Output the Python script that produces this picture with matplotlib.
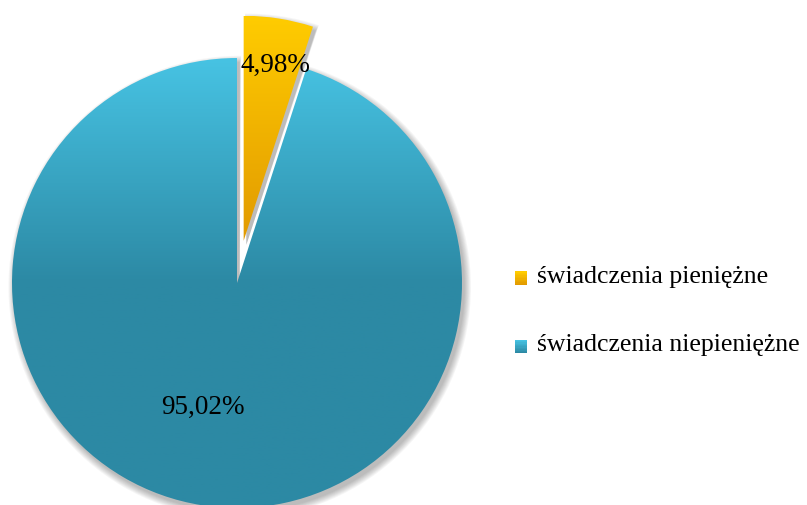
import numpy as np
import matplotlib
matplotlib.use("Agg")
import matplotlib.pyplot as plt
from matplotlib.patches import Wedge, Rectangle
from matplotlib.colors import to_rgb
from matplotlib.legend_handler import HandlerBase

labels = ["świadczenia pieniężne", "świadczenia niepieniężne"]
shares = [4.98, 95.02]
pct_text = ["4,98%", "95,02%"]
explode = [0.19, 0.0]

# gradient colours: (top, bottom) of each slice
grad_colors = [("#FFCC00", "#E29A00"), ("#47C3E3", "#2C89A4")]

plt.rcParams["font.family"] = ["Liberation Serif", "DejaVu Serif"]

W, H = 807, 505
fig = plt.figure(figsize=(W / 100, H / 100), dpi=100)
R = 225  # pie radius in px
cx, cy = 237, H - 283
span = 1.35
ax = fig.add_axes([(cx - span * R) / W, (cy - span * R) / H,
                   2 * span * R / W, 2 * span * R / H])
ax.set_axis_off()

wedges, _ = ax.pie(shares, explode=explode, startangle=90, counterclock=False,
                   radius=1, wedgeprops=dict(linewidth=0))


def gradient_img(top, bottom, n=256):
    c0, c1 = np.array(to_rgb(top)), np.array(to_rgb(bottom))
    t = np.linspace(0, 1, n)[:, None]
    return (c0 * (1 - t) + c1 * t)[:, None, :]


for i, w in enumerate(wedges):
    c = w.center
    r = w.r
    # soft shadow
    for k in range(8):
        s = Wedge((c[0] + 0.012, c[1] - 0.018), r + 0.004 * k, w.theta1 - 0.4 * k / 8,
                  w.theta2 + 0.4 * k / 8, facecolor="black", alpha=0.035, lw=0, zorder=1)
        ax.add_patch(s)
    w.set_facecolor("none")
    w.set_zorder(3)
    top, bot = grad_colors[i]
    if i == 0:
        y_top, y_bot = c[1] + r, c[1]
        img = gradient_img(top, bot)
        im = ax.imshow(img, extent=(-1.2, 1.2, y_bot, y_top), aspect="auto", zorder=2)
    else:
        # lighter at top, constant from centre downwards
        n = 256
        c0, c1 = np.array(to_rgb(top)), np.array(to_rgb(bot))
        y = np.linspace(1.0, -1.0, n)
        t = np.clip(1 - y, 0, 1)[:, None]
        img = (c0 * (1 - t) + c1 * t)[:, None, :]
        im = ax.imshow(img, extent=(-1.2, 1.2, -1.0, 1.0), aspect="auto", zorder=2)
    im.set_clip_path(w)

ax.set_xlim(-span, span)
ax.set_ylim(-span, span)

# percentage labels
ax.text(0.173, 0.969, pct_text[0], fontsize=19.5, ha="center", va="center", zorder=5)
ax.text(-0.151, -0.551, pct_text[1], fontsize=19.5, ha="center", va="center", zorder=5)


class GradHandler(HandlerBase):
    def create_artists(self, legend, orig, xd, yd, width, height, fontsize, trans):
        top, bot = orig.grad
        arts = []
        n = 10
        c0, c1 = np.array(to_rgb(top)), np.array(to_rgb(bot))
        for j in range(n):
            t = j / (n - 1)
            col = c0 * (1 - t) + c1 * t
            r = Rectangle((xd, yd + height * (1 - (j + 1) / n)), width, height / n,
                          facecolor=col, lw=0, transform=trans)
            arts.append(r)
        return arts


handles = []
for i in range(2):
    h = Rectangle((0, 0), 1, 1)
    h.grad = grad_colors[i]
    handles.append(h)

fig.legend(handles, labels, handler_map={Rectangle: GradHandler()},
           loc="center left", bbox_to_anchor=(515 / W, 1 - 311 / H),
           frameon=False, fontsize=18.5, labelspacing=1.8, borderaxespad=0,
           handlelength=0.45, handleheight=0.45, handletextpad=0.4, borderpad=0)

fig.savefig("out.png", dpi=100)
